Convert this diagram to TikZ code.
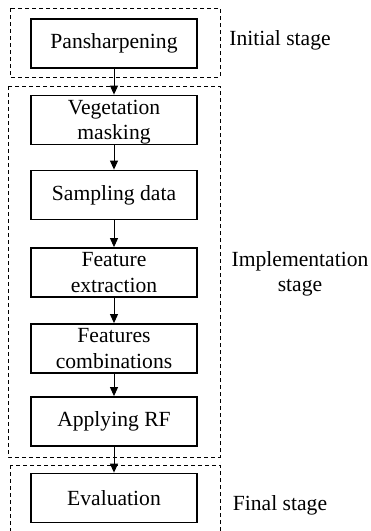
\documentclass[tikz,border=0pt]{standalone}
\usepackage{fontspec}
\setmainfont{Liberation Serif}
\usetikzlibrary{arrows.meta}
\begin{document}
\begin{tikzpicture}[x=1pt,y=-1pt,
  stepbox/.style={draw,line width=1.8pt,minimum width=166pt,minimum height=49pt,
    inner sep=0pt,align=center,font=\fontsize{21.6}{25.5}\selectfont},
  twoline/.style={text depth=0pt,yshift=-1.5pt},
  stagebox/.style={draw,line width=0.8pt,dash pattern=on 4pt off 3pt},
  stagelabel/.style={inner sep=0pt,align=center,font=\fontsize{21.6}{25}\selectfont},
  flow/.style={line width=0.9pt,-{Triangle[width=8pt,length=9pt]}}]
\useasboundingbox (0,0) rectangle (371,531);
% stage frames
\draw[stagebox] (10,8) rectangle (220,77);
\draw[stagebox] (8,86) rectangle (220,457);
\draw[stagebox] (10,465) rectangle (220,540);
% processing steps
\node[stepbox] (pan)  at (114,43.5) {Pansharpening};
\node[stepbox,twoline] (veg)  at (114,118.5) {Vegetation\\masking};
\node[stepbox] (samp) at (114,195) {Sampling data};
\node[stepbox,twoline] (feat) at (114,271) {Feature\\extraction};
\node[stepbox,twoline] (comb) at (114,347) {Features\\combinations};
\node[stepbox] (rf)   at (114,421.5) {Applying RF};
\node[stepbox] (eval) at (114,498) {Evaluation};
% stage names
\node[stagelabel] (l1) at (280,40) {Initial stage};
\node[stagelabel] (l2) at (300,274) {Implementation\\stage};
\node[stagelabel] (l3) at (280,505) {Final stage};
% flow
\draw[flow] (pan) -- (veg);
\draw[flow] (veg) -- (samp);
\draw[flow] (samp) -- (feat);
\draw[flow] (feat) -- (comb);
\draw[flow] (comb) -- (rf);
\draw[flow] (rf) -- (eval);
\end{tikzpicture}
\end{document}
